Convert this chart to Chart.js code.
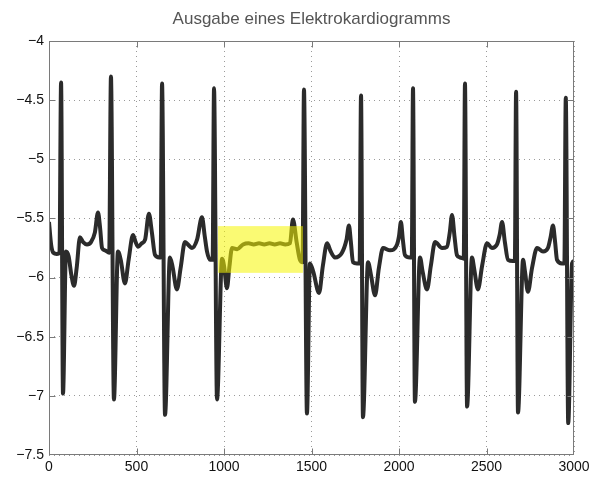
<!DOCTYPE html>
<html>
<head>
<meta charset="utf-8">
<title>Elektrokardiogramm</title>
<script src="https://cdn.jsdelivr.net/npm/chart.js@4.4.1/dist/chart.umd.min.js"></script>
<style>
  html, body { margin: 0; padding: 0; background: #fff; }
  #ekgChart { display: block; }
</style>
</head>
<body>
<canvas id="ekgChart" width="590" height="477"></canvas>
<script>
'use strict';

var chartTitle = 'Ausgabe eines Elektrokardiogramms';

// sample number (x) of each point
var sampleIndex = [
  0, 12, 25, 45, 60,
  69, 80, 97, 112, 128, 143, 158, 177, 195, 217, 240, 262, 280, 292, 303, 320, 344,
  354, 371, 394, 410, 434, 455, 480, 495, 509, 530, 549, 571, 588, 606, 630, 638,
  646, 663, 691, 705, 731, 752, 777, 800, 817, 846, 874, 890, 903, 920, 935,
  943, 960, 989, 1000, 1017, 1030, 1046, 1075, 1109, 1140, 1170, 1200, 1230, 1260, 1290, 1320, 1350, 1377, 1394, 1415, 1434, 1449,
  1457, 1474, 1491, 1510, 1543, 1565, 1589, 1610, 1634, 1674, 1700, 1714, 1725, 1737, 1760, 1775,
  1783, 1794, 1823, 1840, 1863, 1885, 1909, 1949, 1989, 2000, 2011, 2022, 2034, 2063, 2073,
  2080, 2091, 2120, 2135, 2160, 2182, 2206, 2246, 2274, 2290, 2303, 2317, 2331, 2349, 2370,
  2377, 2389, 2417, 2430, 2451, 2475, 2503, 2531, 2560, 2575, 2589, 2605, 2623, 2651, 2662,
  2669, 2680, 2709, 2720, 2737, 2760, 2789, 2823, 2851, 2866, 2880, 2892, 2903, 2931, 2945,
  2953, 2967, 2989, 3000
];

// ECG output value (y) at those samples
var voltage = [
  -5.53, -5.72, -5.79, -5.80, -5.79,
  -4.35, -6.98, -5.78, -5.82, -5.98, -6.07, -5.92, -5.66, -5.70, -5.72, -5.70, -5.62, -5.45, -5.58, -5.75, -5.77, -5.79,
  -4.30, -7.03, -5.78, -5.85, -6.05, -5.85, -5.64, -5.70, -5.74, -5.71, -5.68, -5.46, -5.62, -5.81, -5.83, -5.83,
  -4.36, -7.16, -5.83, -5.90, -6.10, -5.92, -5.70, -5.73, -5.75, -5.68, -5.49, -5.65, -5.78, -5.85, -5.85,
  -4.40, -7.03, -5.84, -5.90, -6.09, -5.92, -5.75, -5.76, -5.72, -5.71, -5.72, -5.71, -5.72, -5.71, -5.72, -5.71, -5.72, -5.71, -5.51, -5.70, -5.85, -5.87,
  -4.41, -7.15, -5.88, -5.95, -6.13, -5.90, -5.71, -5.78, -5.83, -5.79, -5.68, -5.56, -5.70, -5.87, -5.88, -5.88,
  -4.46, -7.18, -5.87, -5.98, -6.15, -5.92, -5.75, -5.77, -5.72, -5.65, -5.53, -5.68, -5.81, -5.83, -5.83,
  -4.40, -7.05, -5.83, -5.95, -6.10, -5.90, -5.70, -5.75, -5.74, -5.62, -5.47, -5.65, -5.81, -5.83, -5.84,
  -4.36, -7.09, -5.83, -5.93, -6.10, -5.90, -5.71, -5.75, -5.72, -5.64, -5.53, -5.70, -5.85, -5.86, -5.86,
  -4.43, -7.14, -5.85, -5.95, -6.12, -5.92, -5.75, -5.78, -5.75, -5.66, -5.56, -5.70, -5.85, -5.88, -5.88,
  -4.48, -7.23, -5.88, -5.86
];

var xTicks = [0, 500, 1000, 1500, 2000, 2500, 3000];
var yTicks = [-7.5, -7, -6.5, -6, -5.5, -5, -4.5, -4];

// yellow marked section of the trace
var highlightX = [966, 1451];
var highlightY = [-5.96, -5.565];

var points = [];
for (var i = 0; i < sampleIndex.length; i++) {
  points.push({ x: sampleIndex[i], y: voltage[i] });
}

function minusLabel(value) {
  return (value < 0 ? '\u2212' : '') + Math.abs(value);
}

// title over the plot box, box, inward tick marks and the yellow box on top of the line
var matlabAxes = {
  id: 'matlabAxes',
  afterDatasetsDraw: function(chart) {
    var ctx = chart.ctx;
    var area = chart.chartArea;
    var xScale = chart.scales.x;
    var yScale = chart.scales.y;

    ctx.save();
    ctx.fillStyle = 'rgba(245, 245, 0, 0.55)';
    var hx0 = xScale.getPixelForValue(highlightX[0]);
    var hx1 = xScale.getPixelForValue(highlightX[1]);
    var hy0 = yScale.getPixelForValue(highlightY[1]);
    var hy1 = yScale.getPixelForValue(highlightY[0]);
    ctx.fillRect(hx0, hy0, hx1 - hx0, hy1 - hy0);

    var left = Math.round(area.left) + 0.5;
    var right = Math.round(area.right) - 0.5;
    var top = Math.round(area.top) + 0.5;
    var bottom = Math.round(area.bottom) - 0.5;

    ctx.strokeStyle = '#7a7a7a';
    ctx.lineWidth = 1;
    ctx.beginPath();
    for (var i = 1; i < xTicks.length - 1; i++) {
      var px = Math.round(xScale.getPixelForValue(xTicks[i])) + 0.5;
      ctx.moveTo(px, bottom);
      ctx.lineTo(px, bottom - 6);
      ctx.moveTo(px, top);
      ctx.lineTo(px, top + 6);
    }
    for (var j = 1; j < yTicks.length - 1; j++) {
      var py = Math.round(yScale.getPixelForValue(yTicks[j])) + 0.5;
      ctx.moveTo(left, py);
      ctx.lineTo(left + 6, py);
      ctx.moveTo(right, py);
      ctx.lineTo(right - 6, py);
    }
    ctx.stroke();
    ctx.strokeRect(left, top, right - left, bottom - top);

    ctx.fillStyle = '#555555';
    ctx.font = '17px "Liberation Sans", Arial, Helvetica, sans-serif';
    ctx.textAlign = 'center';
    ctx.textBaseline = 'middle';
    ctx.fillText(chartTitle, (area.left + area.right) / 2, 19.5);
    ctx.restore();
  }
};

Chart.defaults.font.family = '"Liberation Sans", Arial, Helvetica, sans-serif';
Chart.defaults.color = '#111';

var ctx = document.getElementById('ekgChart').getContext('2d');
var ekgChart = new Chart(ctx, {
  type: 'line',
  data: {
    datasets: [{
      label: 'EKG',
      data: points,
      borderColor: '#2b2b2b',
      borderWidth: 4,
      pointRadius: 0,
      cubicInterpolationMode: 'monotone',
      fill: false
    }]
  },
  options: {
    responsive: false,
    animation: false,
    layout: { padding: { left: 0, right: 16, top: 41, bottom: 0 } },
    plugins: {
      legend: { display: false },
      tooltip: { enabled: false },
      title: { display: false }
    },
    scales: {
      x: {
        type: 'linear',
        min: 0,
        max: 3000,
        afterBuildTicks: function(scale) {
          scale.ticks = xTicks.map(function(v) { return { value: v }; });
        },
        afterFit: function(scale) {
          scale.height = 22;
          scale.paddingLeft = 0;
          scale.paddingRight = 0;
        },
        ticks: {
          padding: 4,
          maxRotation: 0,
          font: { size: 14 },
          color: '#111',
          callback: minusLabel
        },
        grid: { color: '#9a9a9a', lineWidth: 1, drawTicks: false },
        border: { display: false, dash: [1, 4] }
      },
      y: {
        type: 'linear',
        min: -7.5,
        max: -4,
        afterBuildTicks: function(scale) {
          scale.ticks = yTicks.map(function(v) { return { value: v }; });
        },
        afterFit: function(scale) {
          scale.width = 49;
          scale.paddingTop = 0;
          scale.paddingBottom = 0;
        },
        ticks: {
          padding: 5,
          font: { size: 14 },
          color: '#111',
          callback: minusLabel
        },
        grid: { color: '#9a9a9a', lineWidth: 1, drawTicks: false },
        border: { display: false, dash: [1, 4] }
      }
    }
  },
  plugins: [matlabAxes]
});
</script>
</body>
</html>
